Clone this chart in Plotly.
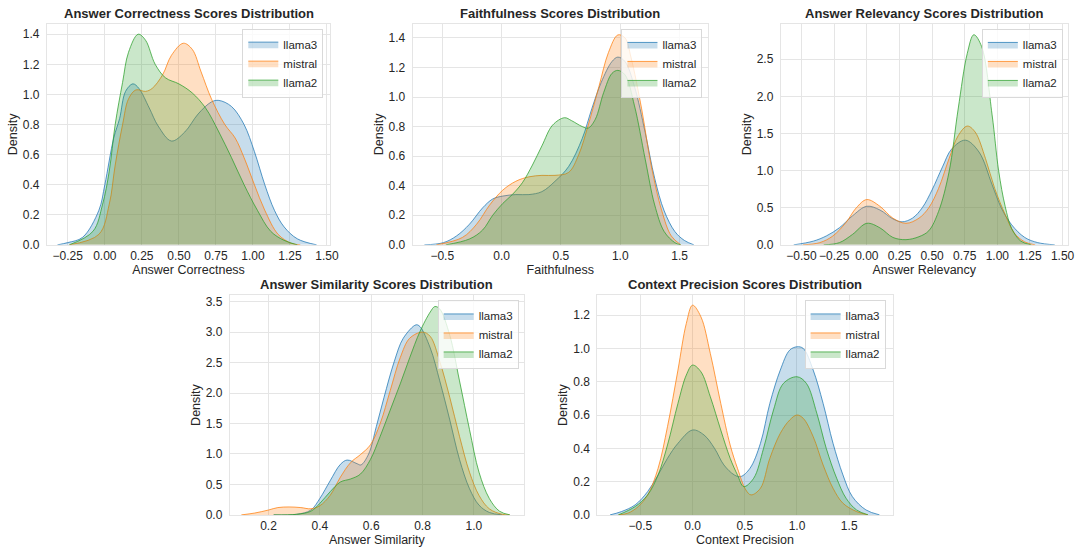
import plotly.graph_objects as go

W, H = 1088, 552

models = ["llama3", "mistral", "llama2"]
colors = ["31,119,180", "255,127,14", "44,160,44"]

titles = ["Answer Correctness Scores Distribution", "Faithfulness Scores Distribution",
          "Answer Relevancy Scores Distribution", "Answer Similarity Scores Distribution",
          "Context Precision Scores Distribution"]
xlabels = ["Answer Correctness", "Faithfulness", "Answer Relevancy", "Answer Similarity", "Context Precision"]

# ---- Answer Correctness densities ----
ac_llama3_x = [-0.32, -0.25, -0.15, -0.04, 0.0, 0.06, 0.10, 0.14, 0.19, 0.23, 0.30, 0.36, 0.45, 0.54, 0.63, 0.72, 0.77, 0.855, 0.94, 1.01, 1.08, 1.145, 1.21, 1.30, 1.43]
ac_llama3_y = [0, 0.015, 0.05, 0.23, 0.40, 0.71, 0.84, 1.02, 1.07, 1.04, 0.91, 0.79, 0.69, 0.75, 0.87, 0.95, 0.96, 0.92, 0.80, 0.62, 0.40, 0.23, 0.12, 0.04, 0]
ac_mistral_x = [-0.24, -0.04, 0.03, 0.07, 0.12, 0.16, 0.21, 0.275, 0.32, 0.39, 0.45, 0.53, 0.59, 0.65, 0.72, 0.81, 0.88, 0.94, 1.01, 1.08, 1.17, 1.26, 1.32]
ac_mistral_y = [0, 0.07, 0.27, 0.53, 0.80, 0.97, 1.03, 1.02, 1.04, 1.13, 1.26, 1.34, 1.30, 1.15, 0.97, 0.80, 0.71, 0.58, 0.40, 0.23, 0.07, 0.01, 0]
ac_llama2_x = [-0.24, -0.08, -0.015, 0.03, 0.07, 0.12, 0.16, 0.225, 0.275, 0.34, 0.41, 0.50, 0.59, 0.68, 0.77, 0.855, 0.94, 1.03, 1.12, 1.21, 1.30]
ac_llama2_y = [0, 0.09, 0.27, 0.49, 0.80, 1.08, 1.28, 1.40, 1.36, 1.20, 1.11, 1.07, 1.01, 0.91, 0.75, 0.58, 0.40, 0.23, 0.09, 0.03, 0]

# ---- Faithfulness densities ----
fa_llama3_x = [-0.65, -0.49, -0.38, -0.27, -0.16, -0.075, 0.01, 0.12, 0.23, 0.34, 0.45, 0.565, 0.68, 0.76, 0.84, 0.93, 0.98, 1.04, 1.12, 1.21, 1.29, 1.37, 1.46, 1.54, 1.62]
fa_llama3_y = [0, 0.015, 0.06, 0.14, 0.25, 0.31, 0.33, 0.34, 0.34, 0.36, 0.43, 0.53, 0.72, 0.92, 1.10, 1.24, 1.27, 1.24, 1.07, 0.76, 0.45, 0.23, 0.09, 0.03, 0]
fa_mistral_x = [-0.55, -0.33, -0.21, -0.10, 0.01, 0.12, 0.23, 0.34, 0.45, 0.565, 0.65, 0.73, 0.82, 0.90, 0.98, 1.04, 1.09, 1.18, 1.26, 1.35, 1.43, 1.51]
fa_mistral_y = [0, 0.05, 0.14, 0.27, 0.37, 0.43, 0.46, 0.47, 0.47, 0.49, 0.61, 0.81, 1.07, 1.30, 1.42, 1.40, 1.27, 0.92, 0.54, 0.23, 0.06, 0]
fa_llama2_x = [-0.47, -0.27, -0.16, -0.075, 0.01, 0.09, 0.175, 0.26, 0.34, 0.43, 0.53, 0.59, 0.68, 0.73, 0.79, 0.86, 0.93, 0.98, 1.04, 1.12, 1.21, 1.29, 1.37, 1.46, 1.51]
fa_llama2_y = [0, 0.04, 0.10, 0.20, 0.28, 0.34, 0.42, 0.54, 0.67, 0.81, 0.86, 0.84, 0.80, 0.79, 0.85, 1.03, 1.16, 1.18, 1.15, 0.94, 0.58, 0.27, 0.09, 0.015, 0]

# ---- Answer Relevancy densities ----
ar_llama3_x = [-0.56, -0.41, -0.31, -0.21, -0.11, 0.0, 0.10, 0.20, 0.27, 0.35, 0.425, 0.50, 0.58, 0.65, 0.755, 0.86, 0.96, 1.03, 1.11, 1.21, 1.31, 1.44]
ar_llama3_y = [0, 0.05, 0.12, 0.23, 0.39, 0.52, 0.47, 0.35, 0.31, 0.36, 0.50, 0.74, 1.05, 1.29, 1.41, 1.25, 0.81, 0.50, 0.27, 0.10, 0.03, 0]
ar_mistral_x = [-0.49, -0.36, -0.26, -0.16, -0.08, 0.0, 0.10, 0.20, 0.30, 0.40, 0.475, 0.55, 0.63, 0.70, 0.77, 0.83, 0.91, 0.98, 1.06, 1.13, 1.21, 1.29]
ar_mistral_y = [0, 0.03, 0.12, 0.30, 0.50, 0.61, 0.52, 0.36, 0.29, 0.36, 0.50, 0.76, 1.16, 1.47, 1.60, 1.52, 1.16, 0.76, 0.41, 0.16, 0.04, 0]
ar_llama2_x = [-0.33, -0.21, -0.11, 0.0, 0.10, 0.20, 0.30, 0.40, 0.475, 0.55, 0.63, 0.70, 0.77, 0.82, 0.88, 0.96, 1.01, 1.06, 1.11, 1.18, 1.26]
ar_llama2_y = [0, 0.03, 0.14, 0.29, 0.23, 0.10, 0.07, 0.11, 0.19, 0.45, 0.98, 1.83, 2.58, 2.83, 2.67, 1.75, 1.00, 0.52, 0.22, 0.05, 0]

# ---- Answer Similarity densities ----
as_llama3_x = [0.22, 0.31, 0.365, 0.40, 0.44, 0.48, 0.506, 0.545, 0.56, 0.59, 0.62, 0.65, 0.69, 0.725, 0.775, 0.79, 0.83, 0.867, 0.906, 0.944, 0.983, 1.02, 1.06, 1.11]
as_llama3_y = [0, 0.01, 0.08, 0.27, 0.56, 0.83, 0.90, 0.84, 0.82, 1.00, 1.45, 1.93, 2.52, 2.90, 3.12, 3.09, 2.74, 2.20, 1.56, 0.91, 0.43, 0.16, 0.04, 0]
as_mistral_x = [0.094, 0.146, 0.2, 0.236, 0.28, 0.326, 0.365, 0.40, 0.44, 0.48, 0.52, 0.558, 0.597, 0.635, 0.674, 0.713, 0.75, 0.80, 0.83, 0.867, 0.906, 0.944, 0.983, 1.02, 1.06, 1.11, 1.14]
as_mistral_y = [0, 0.03, 0.08, 0.12, 0.13, 0.12, 0.10, 0.15, 0.32, 0.62, 0.86, 0.99, 1.15, 1.50, 2.04, 2.58, 2.90, 3.00, 2.93, 2.52, 1.93, 1.29, 0.70, 0.32, 0.10, 0.01, 0]
as_llama2_x = [0.22, 0.31, 0.365, 0.40, 0.44, 0.48, 0.52, 0.558, 0.597, 0.635, 0.674, 0.713, 0.75, 0.79, 0.83, 0.848, 0.867, 0.906, 0.944, 0.983, 1.02, 1.06, 1.10, 1.14]
as_llama2_y = [0, 0.01, 0.06, 0.19, 0.38, 0.54, 0.59, 0.67, 0.91, 1.29, 1.72, 2.15, 2.58, 3.01, 3.33, 3.42, 3.38, 2.95, 2.20, 1.40, 0.70, 0.27, 0.06, 0]

# ---- Context Precision densities ----
cp_llama3_x = [-0.79, -0.68, -0.55, -0.43, -0.33, -0.24, -0.14, 0.0, 0.11, 0.21, 0.30, 0.40, 0.46, 0.55, 0.65, 0.74, 0.84, 0.93, 1.0, 1.06, 1.155, 1.25, 1.345, 1.44, 1.53, 1.66, 1.79]
cp_llama3_y = [0, 0.02, 0.06, 0.14, 0.24, 0.34, 0.43, 0.51, 0.48, 0.40, 0.30, 0.24, 0.23, 0.28, 0.43, 0.67, 0.87, 0.99, 1.01, 1.00, 0.87, 0.67, 0.43, 0.24, 0.11, 0.03, 0]
cp_mistral_x = [-0.71, -0.62, -0.52, -0.43, -0.33, -0.24, -0.14, -0.06, 0.0, 0.08, 0.17, 0.27, 0.36, 0.43, 0.51, 0.56, 0.65, 0.74, 0.84, 0.93, 1.0, 1.06, 1.155, 1.25, 1.345, 1.44, 1.57, 1.68]
cp_mistral_y = [0, 0.01, 0.05, 0.12, 0.28, 0.53, 0.87, 1.15, 1.26, 1.19, 0.97, 0.67, 0.42, 0.28, 0.15, 0.12, 0.16, 0.34, 0.49, 0.57, 0.60, 0.58, 0.47, 0.30, 0.16, 0.07, 0.02, 0]
cp_llama2_x = [-0.71, -0.55, -0.43, -0.33, -0.24, -0.14, -0.06, 0.0, 0.08, 0.17, 0.27, 0.36, 0.43, 0.49, 0.585, 0.68, 0.775, 0.87, 1.0, 1.09, 1.19, 1.28, 1.38, 1.47, 1.57, 1.68]
cp_llama2_y = [0, 0.05, 0.12, 0.24, 0.42, 0.67, 0.84, 0.90, 0.86, 0.71, 0.51, 0.34, 0.24, 0.17, 0.22, 0.40, 0.63, 0.79, 0.83, 0.79, 0.61, 0.40, 0.22, 0.10, 0.03, 0]

series = [
    [(ac_llama3_x, ac_llama3_y), (ac_mistral_x, ac_mistral_y), (ac_llama2_x, ac_llama2_y)],
    [(fa_llama3_x, fa_llama3_y), (fa_mistral_x, fa_mistral_y), (fa_llama2_x, fa_llama2_y)],
    [(ar_llama3_x, ar_llama3_y), (ar_mistral_x, ar_mistral_y), (ar_llama2_x, ar_llama2_y)],
    [(as_llama3_x, as_llama3_y), (as_mistral_x, as_mistral_y), (as_llama2_x, as_llama2_y)],
    [(cp_llama3_x, cp_llama3_y), (cp_mistral_x, cp_mistral_y), (cp_llama2_x, cp_llama2_y)],
]

# tick values per panel
x_ticks = [[-0.25, 0, 0.25, 0.5, 0.75, 1.0, 1.25, 1.5],
           [-0.5, 0, 0.5, 1.0, 1.5],
           [-0.5, -0.25, 0, 0.25, 0.5, 0.75, 1.0, 1.25, 1.5],
           [0.2, 0.4, 0.6, 0.8, 1.0],
           [-0.5, 0, 0.5, 1.0, 1.5]]
x_fmt = [".2f", ".1f", ".2f", ".1f", ".1f"]
y_ticks = [[0, 0.2, 0.4, 0.6, 0.8, 1.0, 1.2, 1.4],
           [0, 0.2, 0.4, 0.6, 0.8, 1.0, 1.2, 1.4],
           [0, 0.5, 1.0, 1.5, 2.0, 2.5],
           [0, 0.5, 1.0, 1.5, 2.0, 2.5, 3.0, 3.5],
           [0, 0.2, 0.4, 0.6, 0.8, 1.0, 1.2]]

# layout geometry (pixels) and axis ranges
boxes_px = [(47.3, 333.0, 24.3, 248.0),
            (416.0, 714.0, 24.3, 248.0),
            (787.3, 1076.7, 24.3, 248.0),
            (231.7, 528.3, 299.0, 521.5),
            (602.3, 900.0, 299.0, 521.5)]
x_ranges = [[-0.391, 1.522], [-0.75, 1.74], [-0.659, 1.540], [0.049, 1.195], [-0.912, 1.915]]
y_ranges = [[0, 1.468], [0, 1.494], [0, 2.975], [0, 3.606], [0, 1.32]]
legend_pos = [(326, 29), (708.3, 29.3), (1071.7, 29.3), (523, 304.3), (893, 304.3)]

FONT = "Arial, Liberation Sans, sans-serif"
TXT = "#262626"
GRID = "#e5e5e5"

fig = go.Figure()
layout = dict(
    width=W, height=H, margin=dict(l=0, r=0, t=0, b=0),
    paper_bgcolor="white", plot_bgcolor="white",
    font=dict(family=FONT, size=12, color=TXT),
    annotations=[],
)

for i in range(5):
    n = "" if i == 0 else str(i + 1)
    x0, x1, y0, y1 = boxes_px[i]
    leg = "legend" if i == 0 else "legend" + str(i + 1)
    for k, m in enumerate(models):
        xs, ys = series[i][k]
        fig.add_trace(go.Scatter(
            x=xs, y=ys, mode="lines", name=m,
            line=dict(color="rgba(%s,0.75)" % colors[k], width=1, shape="spline", smoothing=1.0),
            fill="tozeroy", fillcolor="rgba(%s,0.25)" % colors[k],
            xaxis="x" + n, yaxis="y" + n, legend=leg, showlegend=True,
            hoverinfo="skip",
        ))
    common = dict(showgrid=True, gridcolor=GRID, gridwidth=1, zeroline=False,
                  showline=True, linecolor=GRID, linewidth=1, mirror=True, ticks="",
                  tickfont=dict(size=12, color=TXT))
    layout["xaxis" + n] = dict(
        domain=[x0 / W, x1 / W], range=x_ranges[i], anchor="y" + n,
        tickvals=x_ticks[i], tickformat=x_fmt[i], ticklabelstandoff=0, tickangle=0,
        title=dict(text=xlabels[i], font=dict(size=12.5, color=TXT), standoff=1),
        **common)
    layout["yaxis" + n] = dict(
        domain=[1 - y1 / H, 1 - y0 / H], range=y_ranges[i], anchor="x" + n,
        tickvals=y_ticks[i], tickformat=".1f", ticklabelstandoff=4,
        title=dict(text="Density", font=dict(size=12.5, color=TXT), standoff=2),
        **common)
    layout["annotations"].append(dict(
        text="<b>%s</b>" % titles[i], x=(x0 + x1) / 2 / W, y=1 - y0 / H,
        xref="paper", yref="paper", xanchor="center", yanchor="bottom",
        showarrow=False, yshift=1, font=dict(size=13, color=TXT, family=FONT)))
    lx, ly = legend_pos[i]
    layout[leg] = dict(
        x=lx / W, y=1 - ly / H, xanchor="right", yanchor="top",
        bgcolor="rgba(255,255,255,0.8)", bordercolor="#d9d9d9", borderwidth=1,
        font=dict(size=11.5, color=TXT), itemwidth=30, tracegroupgap=0)

fig.update_layout(**layout)
fig.write_html(
    "out.html",
    config={"displayModeBar": False, "responsive": False},
    post_script=("document.documentElement.style.margin='0';"
                 "document.body.style.margin='0';document.body.style.overflow='hidden';"
                 "var d=document.getElementsByClassName('plotly-graph-div')[0];"
                 "d.style.position='fixed';d.style.left='0px';d.style.top='0px';"),
)
